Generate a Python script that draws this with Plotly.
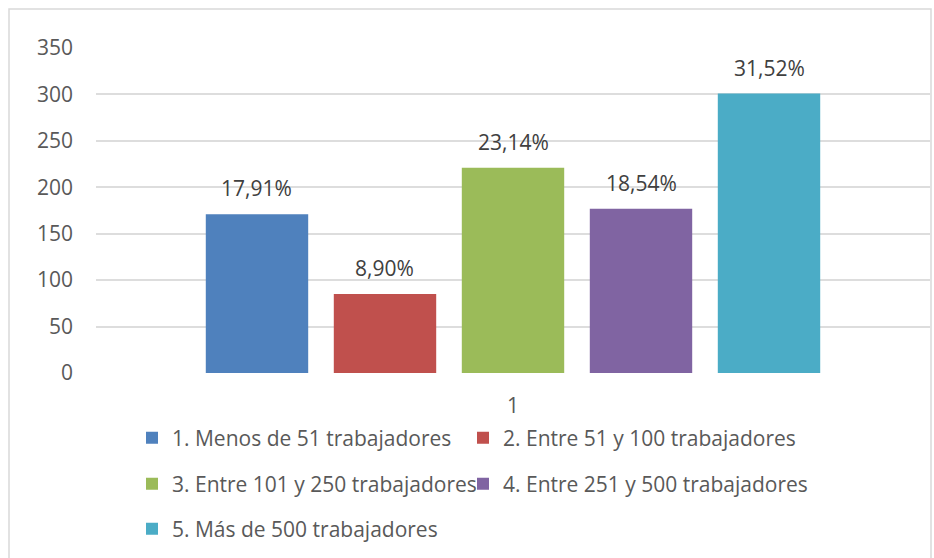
import plotly.graph_objects as go

categories = ["1"]
series_names = [
    "1. Menos de 51 trabajadores",
    "2. Entre 51 y 100 trabajadores",
    "3. Entre 101 y 250 trabajadores",
    "4. Entre 251 y 500 trabajadores",
    "5. Más de 500 trabajadores",
]
series_values = [171, 85, 221, 177, 301]
label_texts = ["17,91%", "8,90%", "23,14%", "18,54%", "31,52%"]
colors = ["#4F81BD", "#C0504D", "#9BBB59", "#8064A2", "#4BACC6"]
y_ticks = [0, 50, 100, 150, 200, 250, 300, 350]

W, H = 934, 558
ML, MR, MT, MB = 96, 4, 48, 185
plot_w = W - ML - MR
plot_h = H - MT - MB
bargap = 0.2326
bargroupgap = 0.2
slot_px = (1 - bargap) * plot_w / len(series_values)

FONT = "Open Sans"
FS = 21
fig = go.Figure()

# legend layout: 2 columns, 3 rows (pixel positions in the container)
col_x = [132, 463]
rows_y = [438, 484, 529]
legend_keys = ["legend", "legend2", "legend3", "legend4", "legend5"]
legend_layouts = {}
for i in range(len(series_names)):
    legend_layouts[legend_keys[i]] = dict(
        orientation="h", xref="container", yref="container",
        xanchor="left", yanchor="middle",
        x=col_x[i % 2] / W, y=1 - rows_y[i // 2] / H,
        font=dict(family=FONT, size=FS, color="#595959"),
        bgcolor="rgba(0,0,0,0)", itemclick=False,
    )

for i, (name, val, col) in enumerate(zip(series_names, series_values, colors)):
    fig.add_trace(go.Bar(
        x=categories, y=[val], name=name, marker=dict(color=col, line=dict(width=0)),
        legend=legend_keys[i], hoverinfo="skip",
    ))
    fig.add_annotation(
        x=0, y=val, text=label_texts[i], showarrow=False,
        xshift=(i - (len(series_values) - 1) / 2) * slot_px, yshift=26,
        yanchor="middle", font=dict(family=FONT, size=FS, color="#404040"),
    )

fig.update_layout(
    width=W, height=H,
    margin=dict(l=ML, r=MR, t=MT, b=MB, autoexpand=False),
    paper_bgcolor="white", plot_bgcolor="white",
    barmode="group", bargap=bargap, bargroupgap=bargroupgap,
    showlegend=True,
    font=dict(family=FONT, size=FS, color="#595959"),
    xaxis=dict(type="category", range=[-0.5, 0.5], showgrid=False, showline=False,
               zeroline=False, ticks="", ticklabelstandoff=18,
               tickfont=dict(family=FONT, size=FS, color="#595959")),
    yaxis=dict(range=[0, 350], tickvals=y_ticks, showgrid=True, gridcolor="#DDDDDD",
               gridwidth=1.5, zeroline=False, showline=False, ticks="",
               ticklabelstandoff=22, tickfont=dict(family=FONT, size=FS, color="#595959")),
    shapes=[dict(type="rect", xref="paper", yref="paper",
                 x0=(9 - ML) / plot_w, x1=(931 - ML) / plot_w,
                 y0=-(H + 10 - MT - plot_h) / plot_h, y1=1 + (MT - 9) / plot_h,
                 line=dict(color="#D9D9D9", width=1.5), layer="below")],
    **legend_layouts,
)
fig.write_html("out.html", config={"displayModeBar": False},
               post_script="document.body.style.margin='0';")
